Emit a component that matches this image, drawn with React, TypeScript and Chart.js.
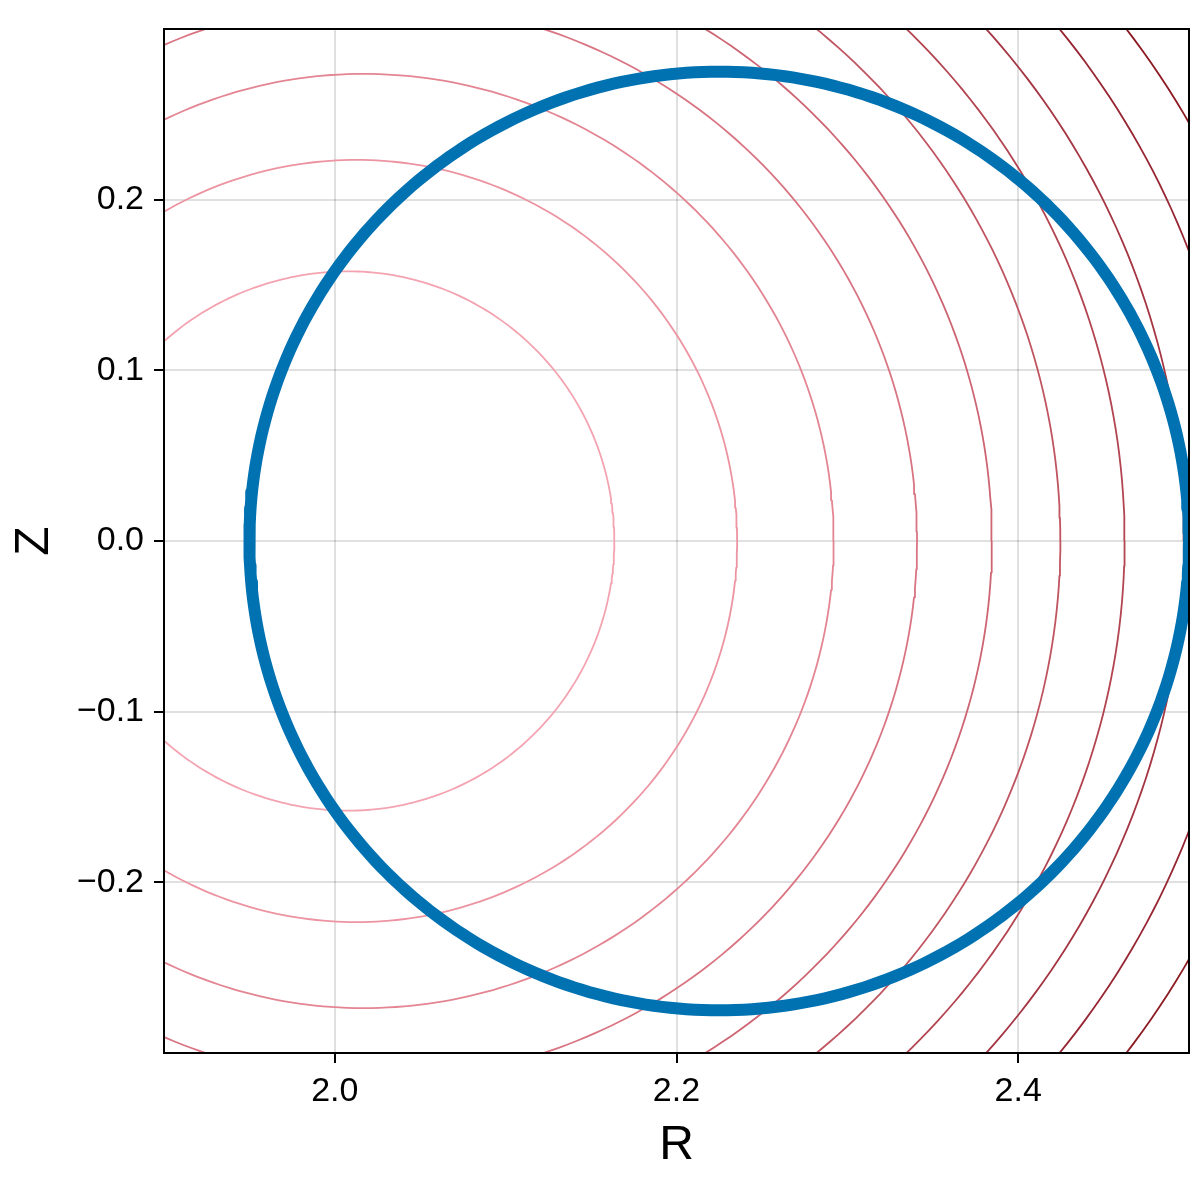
import React, { useEffect, useRef } from "react";
import { Chart, registerables } from "chart.js";

Chart.register(...registerables);

// ---- axes ----
const xRange = [1.9, 2.5];
const yRange = [-0.3, 0.3];
const xTicks = [2.0, 2.2, 2.4];
const xTickLabels = ["2.0", "2.2", "2.4"];
const yTicks = [-0.2, -0.1, 0.0, 0.1, 0.2];
const yTickLabels = ["\u22120.2", "\u22120.1", "0.0", "0.1", "0.2"];
const xTitle = "R";
const yTitle = "Z";

// ---- flux-surface contours ----
// R of the top of each contour, R where it crosses Z=0 on the outboard / inboard side, and its half-height
const contourTopR = [2.008, 2.0127, 2.0166, 2.022, 2.027, 2.032, 2.037, 2.042, 2.047, 2.052];
const contourOuterR = [2.1636, 2.2355, 2.292, 2.3408, 2.3846, 2.4247, 2.4623, 2.497, 2.5316, 2.5657];
const contourInnerR = [1.8473, 1.7887, 1.7469, 1.711, 1.678, 1.649, 1.622, 1.598, 1.575, 1.551];
const contourHalfHeight = [0.158, 0.2233, 0.2737, 0.316, 0.354, 0.389, 0.42, 0.4502, 0.4779, 0.5008];
const contourColors = [
  "#f4a3b0",
  "#ec94a1",
  "#e38592",
  "#d97583",
  "#cd6573",
  "#c05562",
  "#b24551",
  "#a43542",
  "#972633",
  "#8c1a22",
];

// ---- traced surface (blue ring) ----
const ringCenterR = 2.225;
const ringCenterZ = 0.0;
const ringRadius = 0.275;
const ringColor = "#0072b2";

const FONT = "'Liberation Sans', Arial, Helvetica, sans-serif";

function loopPoints(topR: number, outR: number, inR: number, h: number, n: number) {
  const pts: { x: number; y: number }[] = [];
  for (let i = 0; i <= n; i++) {
    const t = (2 * Math.PI * i) / n;
    const c = Math.cos(t);
    const s = Math.sin(t);
    const a = c >= 0 ? outR - topR : topR - inR;
    pts.push({ x: topR + a * c, y: h * s });
  }
  return pts;
}

function ringPoints(cr: number, cz: number, r: number, n: number) {
  const pts: { x: number; y: number }[] = [];
  for (let i = 0; i <= n; i++) {
    const t = (2 * Math.PI * i) / n;
    pts.push({ x: cr + r * Math.cos(t), y: cz + r * Math.sin(t) });
  }
  return pts;
}

const framePlugin = {
  id: "frame",
  afterDraw(chart: any) {
    const { ctx, chartArea } = chart;
    const { left, top, right, bottom } = chartArea;
    ctx.save();
    ctx.strokeStyle = "#000";
    ctx.lineWidth = 2;
    ctx.strokeRect(left, top, right - left, bottom - top);
    ctx.restore();
  },
};

function labelFor(values: number[], labels: string[], v: number) {
  let best = 0;
  for (let i = 1; i < values.length; i++) {
    if (Math.abs(values[i] - v) < Math.abs(values[best] - v)) best = i;
  }
  return labels[best];
}

export default function App() {
  const ref = useRef<HTMLCanvasElement>(null);

  useEffect(() => {
    if (!ref.current) return;

    const contourSets = contourTopR.map((topR, i) => ({
      label: "contour " + (i + 1),
      data: loopPoints(topR, contourOuterR[i], contourInnerR[i], contourHalfHeight[i], 360),
      showLine: true,
      borderColor: contourColors[i],
      borderWidth: 1.8,
      borderJoinStyle: "round",
      pointRadius: 0,
      fill: false,
      tension: 0,
      clip: 0,
      order: 1,
    }));

    const ringSet = {
      label: "surface",
      data: ringPoints(ringCenterR, ringCenterZ, ringRadius, 360),
      showLine: true,
      borderColor: ringColor,
      borderWidth: 12,
      borderJoinStyle: "round",
      borderCapStyle: "round",
      pointRadius: 0,
      fill: false,
      tension: 0,
      clip: 0,
      order: 0,
    };

    const gridOpts = {
      color: "rgba(0,0,0,0.12)",
      lineWidth: 2,
      drawTicks: true,
      tickLength: 10,
      tickColor: "#000",
      tickWidth: 2,
    };

    const chart = new Chart(ref.current, {
      type: "scatter",
      data: { datasets: [ringSet as any, ...(contourSets as any)] },
      options: {
        responsive: false,
        maintainAspectRatio: false,
        devicePixelRatio: 1,
        animation: false,
        events: [],
        layout: { padding: { top: 29, right: 11, bottom: 0, left: 0 } },
        plugins: {
          legend: { display: false },
          tooltip: { enabled: false },
        },
        scales: {
          x: {
            type: "linear",
            position: "bottom",
            min: xRange[0],
            max: xRange[1],
            afterBuildTicks: (s: any) => {
              s.ticks = xTicks.map((v) => ({ value: v }));
            },
            afterFit: (s: any) => {
              s.height = 147;
            },
            ticks: {
              callback: (v: any) => labelFor(xTicks, xTickLabels, Number(v)),
              font: { family: FONT, size: 34, lineHeight: 1 },
              color: "#000",
              padding: 12,
              maxRotation: 0,
              autoSkip: false,
            },
            grid: gridOpts,
            border: { display: true, color: "#000", width: 2 },
            title: {
              display: true,
              text: xTitle,
              color: "#000",
              font: { family: FONT, size: 48, lineHeight: 1 },
              padding: { top: 0, bottom: 30 },
            },
          },
          y: {
            type: "linear",
            position: "left",
            min: yRange[0],
            max: yRange[1],
            afterBuildTicks: (s: any) => {
              s.ticks = yTicks.map((v) => ({ value: v }));
            },
            afterFit: (s: any) => {
              s.width = 164;
            },
            ticks: {
              callback: (v: any) => labelFor(yTicks, yTickLabels, Number(v)),
              font: { family: FONT, size: 34, lineHeight: 1 },
              color: "#000",
              padding: 10,
              autoSkip: false,
            },
            grid: gridOpts,
            border: { display: true, color: "#000", width: 2 },
            title: {
              display: true,
              text: yTitle,
              color: "#000",
              font: { family: FONT, size: 48, lineHeight: 1 },
              padding: { top: 11, bottom: 0 },
            },
          },
        },
      } as any,
      plugins: [framePlugin],
    });

    return () => chart.destroy();
  }, []);

  return (
    <div style={{ position: "absolute", left: 0, top: 0, width: 1200, height: 1200, background: "#fff" }}>
      <canvas ref={ref} width={1200} height={1200} style={{ display: "block", width: 1200, height: 1200 }} />
    </div>
  );
}
